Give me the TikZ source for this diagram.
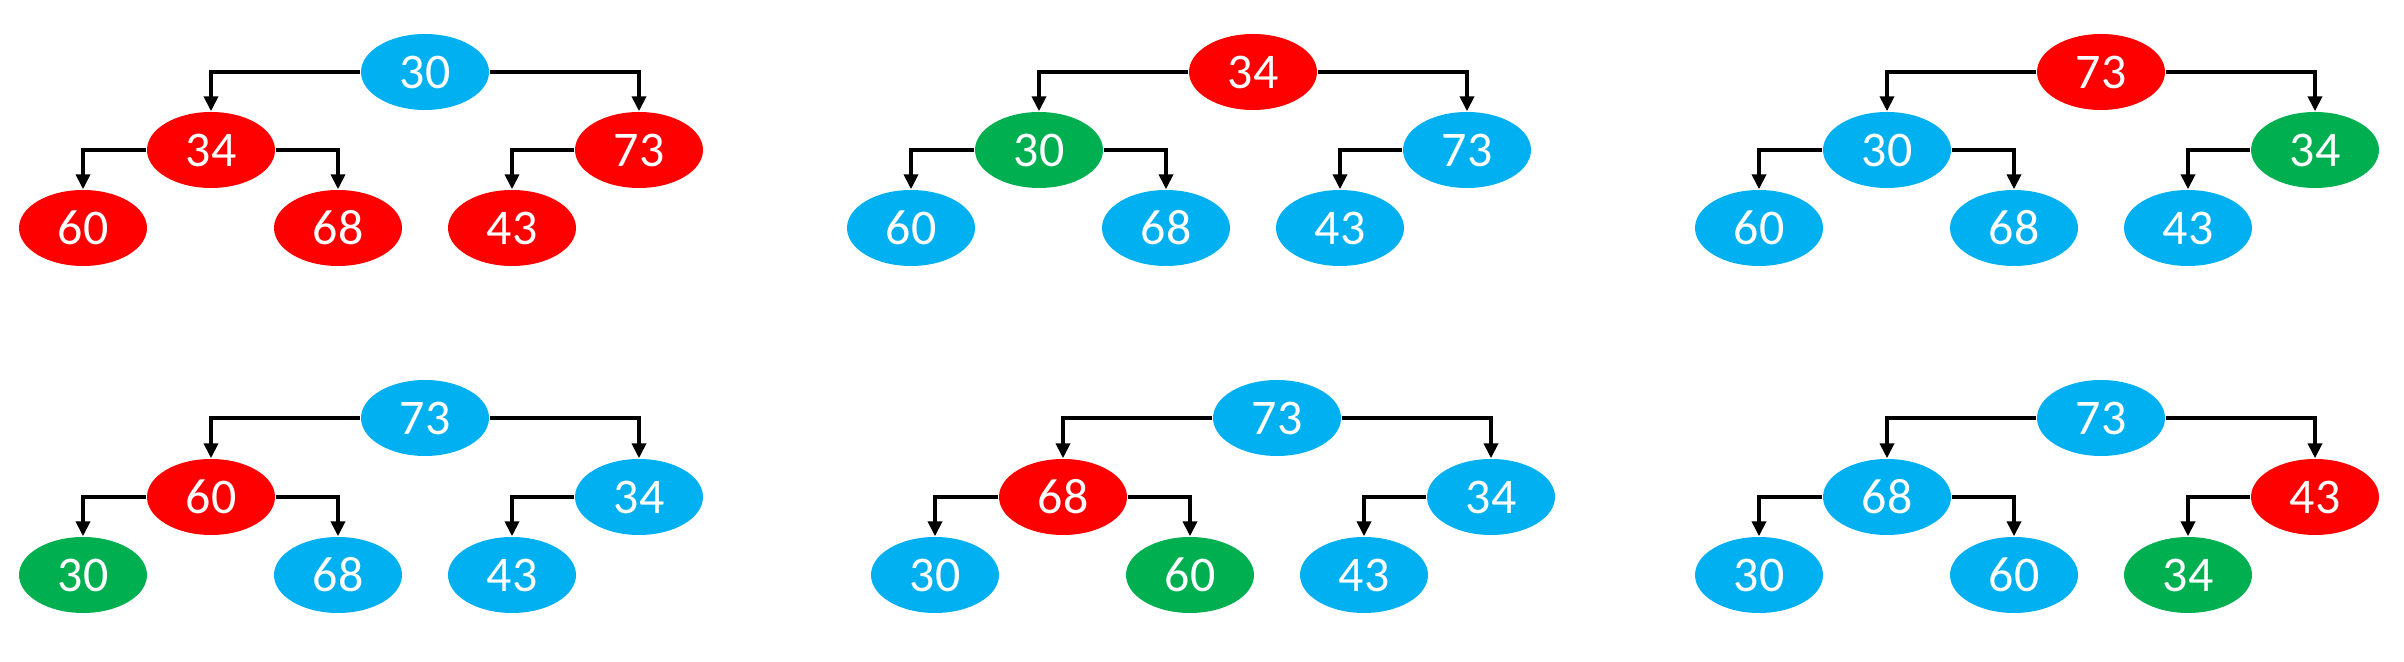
\documentclass[tikz,border=0pt]{standalone}
\usepackage{fontspec}
\setmainfont{Carlito}
\usetikzlibrary{shapes.geometric,arrows.meta}
\definecolor{keyred}{HTML}{FF0000}
\definecolor{keyblue}{HTML}{00B0F0}
\definecolor{keygreen}{HTML}{00B050}
\newcommand{\KeyFont}{\fontsize{14.2}{17}\selectfont}

\begin{document}
\begin{tikzpicture}[>={Triangle[width=0.14cm,length=0.15cm]},
  key/.style={ellipse,minimum width=1.28cm,minimum height=0.76cm,inner sep=0pt,
    text=white,font=\KeyFont},
  redkey/.style={key,fill=keyred},
  bluekey/.style={key,fill=keyblue},
  greenkey/.style={key,fill=keygreen},
  elbow/.style={line width=1.1pt,to path={-| (\tikztotarget)}}]
\useasboundingbox (0,0) rectangle (24.04,-6.62);

% first row
\node[bluekey] (T1-1) at (4.25,-0.72) {30};
\node[redkey] (T1-2) at (2.11,-1.50) {34};
\node[redkey] (T1-3) at (6.39,-1.50) {73};
\node[redkey] (T1-4) at (0.83,-2.28) {60};
\node[redkey] (T1-5) at (3.38,-2.28) {68};
\node[redkey] (T1-6) at (5.12,-2.28) {43};

\node[redkey] (T2-1) at (12.53,-0.72) {34};
\node[greenkey] (T2-2) at (10.39,-1.50) {30};
\node[bluekey] (T2-3) at (14.67,-1.50) {73};
\node[bluekey] (T2-4) at (9.11,-2.28) {60};
\node[bluekey] (T2-5) at (11.66,-2.28) {68};
\node[bluekey] (T2-6) at (13.40,-2.28) {43};

\node[redkey] (T3-1) at (21.01,-0.72) {73};
\node[bluekey] (T3-2) at (18.87,-1.50) {30};
\node[greenkey] (T3-3) at (23.15,-1.50) {34};
\node[bluekey] (T3-4) at (17.59,-2.28) {60};
\node[bluekey] (T3-5) at (20.14,-2.28) {68};
\node[bluekey] (T3-6) at (21.88,-2.28) {43};

% second row
\node[bluekey] (T4-1) at (4.25,-4.18) {73};
\node[redkey] (T4-2) at (2.11,-4.97) {60};
\node[bluekey] (T4-3) at (6.39,-4.97) {34};
\node[greenkey] (T4-4) at (0.83,-5.75) {30};
\node[bluekey] (T4-5) at (3.38,-5.75) {68};
\node[bluekey] (T4-6) at (5.12,-5.75) {43};

\node[bluekey] (T5-1) at (12.77,-4.18) {73};
\node[redkey] (T5-2) at (10.63,-4.97) {68};
\node[bluekey] (T5-3) at (14.91,-4.97) {34};
\node[bluekey] (T5-4) at (9.35,-5.75) {30};
\node[greenkey] (T5-5) at (11.90,-5.75) {60};
\node[bluekey] (T5-6) at (13.64,-5.75) {43};

\node[bluekey] (T6-1) at (21.01,-4.18) {73};
\node[bluekey] (T6-2) at (18.87,-4.97) {68};
\node[redkey] (T6-3) at (23.15,-4.97) {43};
\node[bluekey] (T6-4) at (17.59,-5.75) {30};
\node[bluekey] (T6-5) at (20.14,-5.75) {60};
\node[greenkey] (T6-6) at (21.88,-5.75) {34};

\path[->] (T1-1) edge[elbow] (T1-2) edge[elbow] (T1-3);
\path[->] (T1-2) edge[elbow] (T1-4) edge[elbow] (T1-5);
\path[->] (T1-3) edge[elbow] (T1-6);

\path[->] (T2-1) edge[elbow] (T2-2) edge[elbow] (T2-3);
\path[->] (T2-2) edge[elbow] (T2-4) edge[elbow] (T2-5);
\path[->] (T2-3) edge[elbow] (T2-6);

\path[->] (T3-1) edge[elbow] (T3-2) edge[elbow] (T3-3);
\path[->] (T3-2) edge[elbow] (T3-4) edge[elbow] (T3-5);
\path[->] (T3-3) edge[elbow] (T3-6);

\path[->] (T4-1) edge[elbow] (T4-2) edge[elbow] (T4-3);
\path[->] (T4-2) edge[elbow] (T4-4) edge[elbow] (T4-5);
\path[->] (T4-3) edge[elbow] (T4-6);

\path[->] (T5-1) edge[elbow] (T5-2) edge[elbow] (T5-3);
\path[->] (T5-2) edge[elbow] (T5-4) edge[elbow] (T5-5);
\path[->] (T5-3) edge[elbow] (T5-6);

\path[->] (T6-1) edge[elbow] (T6-2) edge[elbow] (T6-3);
\path[->] (T6-2) edge[elbow] (T6-4) edge[elbow] (T6-5);
\path[->] (T6-3) edge[elbow] (T6-6);
\end{tikzpicture}
\end{document}
